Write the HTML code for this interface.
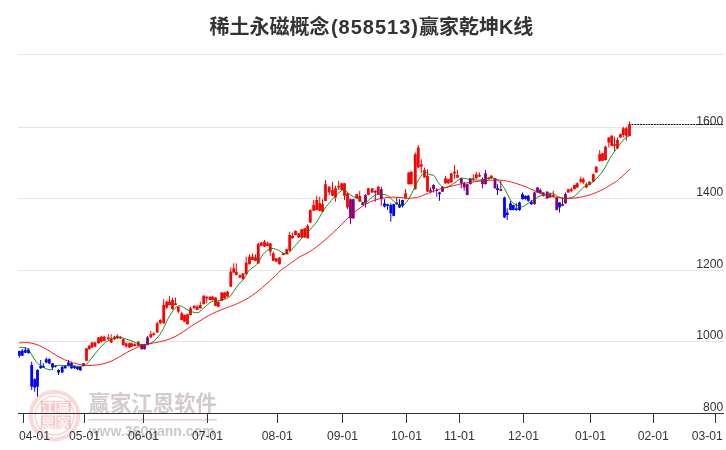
<!DOCTYPE html>
<html lang="zh"><head><meta charset="utf-8"><title>稀土永磁概念(858513)赢家乾坤K线</title>
<style>
html,body{margin:0;padding:0;background:#fff;}
body{width:726px;height:450px;overflow:hidden;position:relative;font-family:"Liberation Sans","Noto Sans CJK SC",sans-serif;}
#title{position:absolute;left:0;top:12px;width:742.8px;text-align:center;font-size:20px;line-height:30px;font-weight:bold;color:#333;white-space:nowrap;font-family:"Liberation Sans","Noto Sans CJK SC",sans-serif;}
#title .n{letter-spacing:1.0px;margin-left:1.4px;}#title .k{letter-spacing:-0.2px;}
svg{position:absolute;left:0;top:0;}
svg text{font-family:"Liberation Sans","Noto Sans CJK SC",sans-serif;}
</style></head><body>
<svg width="726" height="450" viewBox="0 0 726 450">
<rect x="18" y="54" width="706" height="1" fill="#e4e4e4"/><rect x="18" y="127" width="706" height="1" fill="#e4e4e4"/><rect x="18" y="198" width="706" height="1" fill="#e4e4e4"/><rect x="18" y="270" width="706" height="1" fill="#e4e4e4"/><rect x="18" y="341" width="706" height="1" fill="#e4e4e4"/>
<g id="wm">
<defs><filter id="bl" x="-10%" y="-10%" width="120%" height="120%"><feGaussianBlur stdDeviation="0.45"/></filter></defs>
<g filter="url(#bl)">
<circle cx="54.5" cy="415.6" r="23.8" fill="none" stroke="#e05050" stroke-opacity="0.22" stroke-width="4"/>
<circle cx="54.5" cy="415.6" r="19.3" fill="none" stroke="#e05050" stroke-opacity="0.24" stroke-width="1.5"/>
<g fill="#e05050" fill-opacity="0.30">
<rect x="40.8" y="400.8" width="14.4" height="13.4"/><rect x="56.4" y="400.8" width="14.4" height="13.4"/>
<rect x="40.8" y="415.4" width="14.4" height="13.4"/><rect x="56.4" y="415.4" width="14.4" height="13.4"/>
</g>
<g fill="#fff" fill-opacity="0.8" font-size="13" text-anchor="middle" font-weight="bold">
<text x="48" y="412.3">江</text><text x="63.6" y="412.3">赢</text><text x="48" y="426.9">恩</text><text x="63.6" y="426.9">家</text>
</g>
</g>
<text x="88.5" y="410.7" font-size="21.4" font-weight="700" fill="#d3cbcb" textLength="128.5" lengthAdjust="spacing">赢家江恩软件</text>
<rect x="88.5" y="418.8" width="128.5" height="1.9" fill="#ecd4d4"/>
<text x="88.7" y="436" font-size="14" font-weight="bold" fill="#cacaca" textLength="126" lengthAdjust="spacing">www.360gann.com</text>
</g>
<rect x="18" y="413" width="706" height="1" fill="#333"/>
<rect x="23" y="413" width="1" height="10" fill="#333"/><rect x="84" y="413" width="1" height="10" fill="#333"/><rect x="143" y="413" width="1" height="10" fill="#333"/><rect x="207" y="413" width="1" height="10" fill="#333"/><rect x="277" y="413" width="1" height="10" fill="#333"/><rect x="342" y="413" width="1" height="10" fill="#333"/><rect x="406" y="413" width="1" height="10" fill="#333"/><rect x="459" y="413" width="1" height="10" fill="#333"/><rect x="523" y="413" width="1" height="10" fill="#333"/><rect x="590" y="413" width="1" height="10" fill="#333"/><rect x="653" y="413" width="1" height="10" fill="#333"/><rect x="715" y="413" width="1" height="10" fill="#333"/>
<g font-size="13" fill="#333"><text x="34.6" y="440" text-anchor="middle" textLength="31" lengthAdjust="spacingAndGlyphs">04-01</text><text x="84.5" y="440" text-anchor="middle" textLength="31" lengthAdjust="spacingAndGlyphs">05-01</text><text x="143.4" y="440" text-anchor="middle" textLength="31" lengthAdjust="spacingAndGlyphs">06-01</text><text x="207.6" y="440" text-anchor="middle" textLength="31" lengthAdjust="spacingAndGlyphs">07-01</text><text x="277.2" y="440" text-anchor="middle" textLength="31" lengthAdjust="spacingAndGlyphs">08-01</text><text x="342.4" y="440" text-anchor="middle" textLength="31" lengthAdjust="spacingAndGlyphs">09-01</text><text x="406.4" y="440" text-anchor="middle" textLength="31" lengthAdjust="spacingAndGlyphs">10-01</text><text x="459.5" y="440" text-anchor="middle" textLength="31" lengthAdjust="spacingAndGlyphs">11-01</text><text x="523.4" y="440" text-anchor="middle" textLength="31" lengthAdjust="spacingAndGlyphs">12-01</text><text x="590.4" y="440" text-anchor="middle" textLength="31" lengthAdjust="spacingAndGlyphs">01-01</text><text x="653.3" y="440" text-anchor="middle" textLength="31" lengthAdjust="spacingAndGlyphs">02-01</text><text x="707.3" y="440" text-anchor="middle" textLength="31" lengthAdjust="spacingAndGlyphs">03-01</text><text x="723.3" y="124.7" text-anchor="end" textLength="27.0" lengthAdjust="spacingAndGlyphs">1600</text><text x="723.3" y="196" text-anchor="end" textLength="27.0" lengthAdjust="spacingAndGlyphs">1400</text><text x="723.3" y="268" text-anchor="end" textLength="27.0" lengthAdjust="spacingAndGlyphs">1200</text><text x="723.3" y="339" text-anchor="end" textLength="27.0" lengthAdjust="spacingAndGlyphs">1000</text><text x="723.3" y="411" text-anchor="end" textLength="20.2" lengthAdjust="spacingAndGlyphs">800</text></g>
<g shape-rendering="auto">
<path d="M19.4 350.7V357.7" stroke="#0000ff" stroke-width="1"/><rect x="18.0" y="351.1" width="2.8" height="4.6" fill="#0000ff"/>
<path d="M22.3 349.0V355.9" stroke="#0000ff" stroke-width="1"/><rect x="20.9" y="350.7" width="2.8" height="5.0" fill="#0000ff"/>
<path d="M25.4 347.0V353.0" stroke="#0000ff" stroke-width="1"/><rect x="24.0" y="349.9" width="2.8" height="2.9" fill="#0000ff"/>
<path d="M28.5 348.2V353.6" stroke="#0000ff" stroke-width="1"/><rect x="27.1" y="349.5" width="2.8" height="3.7" fill="#0000ff"/>
<path d="M31.7 361.7V390.0" stroke="#0000ff" stroke-width="1"/><rect x="30.3" y="365.0" width="2.8" height="21.7" fill="#0000ff"/>
<path d="M34.7 378.3V391.7" stroke="#0000ff" stroke-width="1"/><rect x="33.3" y="379.2" width="2.8" height="8.3" fill="#0000ff"/>
<path d="M37.5 369.2V396.7" stroke="#0000ff" stroke-width="1"/><rect x="36.1" y="370.0" width="2.8" height="16.7" fill="#0000ff"/>
<path d="M40.7 360.0V368.7" stroke="#0000ff" stroke-width="1"/><rect x="39.3" y="365.8" width="2.8" height="2.5" fill="#0000ff"/>
<path d="M43.3 363.3V368.0" stroke="#0000ff" stroke-width="1"/><rect x="41.9" y="365.8" width="2.8" height="1.7" fill="#0000ff"/>
<path d="M46.3 357.5V363.3" stroke="#0000ff" stroke-width="1"/><rect x="44.9" y="359.2" width="2.8" height="3.3" fill="#0000ff"/>
<path d="M49.3 358.3V364.2" stroke="#0000ff" stroke-width="1"/><rect x="47.9" y="359.2" width="2.8" height="4.2" fill="#0000ff"/>
<path d="M52.5 363.0V370.0" stroke="#0000ff" stroke-width="1"/><rect x="51.1" y="363.3" width="2.8" height="4.2" fill="#0000ff"/>
<path d="M55.3 365.0V367.5" stroke="#0000ff" stroke-width="1"/><rect x="53.9" y="365.8" width="2.8" height="1.0" fill="#0000ff"/>
<path d="M58.5 369.2V375.0" stroke="#0000ff" stroke-width="1"/><rect x="57.1" y="370.0" width="2.8" height="2.5" fill="#0000ff"/>
<path d="M62.2 366.3V372.8" stroke="#0000ff" stroke-width="1"/><rect x="60.8" y="366.7" width="2.8" height="5.8" fill="#0000ff"/>
<path d="M65.2 365.5V368.7" stroke="#0000ff" stroke-width="1"/><rect x="63.8" y="365.8" width="2.8" height="2.5" fill="#0000ff"/>
<path d="M68.5 360.0V366.3" stroke="#0000ff" stroke-width="1"/><rect x="67.1" y="362.5" width="2.8" height="3.3" fill="#0000ff"/>
<path d="M71.5 361.7V368.7" stroke="#0000ff" stroke-width="1"/><rect x="70.1" y="363.3" width="2.8" height="5.0" fill="#0000ff"/>
<path d="M74.5 365.3V368.7" stroke="#0000ff" stroke-width="1"/><rect x="73.1" y="365.8" width="2.8" height="2.5" fill="#0000ff"/>
<path d="M77.5 366.3V370.0" stroke="#0000ff" stroke-width="1"/><rect x="76.1" y="366.7" width="2.8" height="2.5" fill="#0000ff"/>
<path d="M80.3 366.3V370.8" stroke="#0000ff" stroke-width="1"/><rect x="78.9" y="366.7" width="2.8" height="3.7" fill="#0000ff"/>
<path d="M83.5 363.0V366.3" stroke="#800080" stroke-width="1"/><rect x="82.1" y="363.3" width="2.8" height="2.5" fill="#800080"/>
<path d="M86.5 348.0V361.2" stroke="#ff0000" stroke-width="1"/><rect x="85.1" y="348.3" width="2.8" height="12.5" fill="#ff0000"/>
<path d="M89.3 345.0V349.7" stroke="#ff0000" stroke-width="1"/><rect x="87.9" y="345.8" width="2.8" height="3.3" fill="#ff0000"/>
<path d="M92.0 342.0V348.0" stroke="#ff0000" stroke-width="1"/><rect x="90.6" y="342.5" width="2.8" height="5.0" fill="#ff0000"/>
<path d="M95.0 342.0V347.2" stroke="#ff0000" stroke-width="1"/><rect x="93.6" y="342.5" width="2.8" height="4.2" fill="#ff0000"/>
<path d="M98.5 337.0V343.7" stroke="#ff0000" stroke-width="1"/><rect x="97.1" y="337.5" width="2.8" height="5.8" fill="#ff0000"/>
<path d="M101.3 335.8V342.5" stroke="#ff0000" stroke-width="1"/><rect x="99.9" y="336.7" width="2.8" height="5.0" fill="#ff0000"/>
<path d="M104.2 335.8V341.3" stroke="#ff0000" stroke-width="1"/><rect x="102.8" y="336.7" width="2.8" height="4.2" fill="#ff0000"/>
<path d="M108.3 334.2V340.0" stroke="#ff0000" stroke-width="1"/><rect x="106.9" y="337.5" width="2.8" height="1.7" fill="#ff0000"/>
<path d="M111.2 334.2V343.0" stroke="#ff0000" stroke-width="1"/><rect x="109.8" y="338.3" width="2.8" height="4.2" fill="#ff0000"/>
<path d="M114.5 335.8V340.0" stroke="#ff0000" stroke-width="1"/><rect x="113.1" y="336.7" width="2.8" height="2.5" fill="#ff0000"/>
<path d="M117.3 334.2V339.2" stroke="#ff0000" stroke-width="1"/><rect x="115.9" y="335.8" width="2.8" height="2.5" fill="#ff0000"/>
<path d="M120.3 335.8V339.2" stroke="#ff0000" stroke-width="1"/><rect x="118.9" y="336.7" width="2.8" height="1.7" fill="#ff0000"/>
<path d="M123.3 338.3V345.8" stroke="#ff0000" stroke-width="1"/><rect x="121.9" y="339.2" width="2.8" height="5.8" fill="#ff0000"/>
<path d="M126.2 342.5V347.5" stroke="#ff0000" stroke-width="1"/><rect x="124.8" y="343.3" width="2.8" height="3.3" fill="#ff0000"/>
<path d="M129.5 342.5V348.0" stroke="#ff0000" stroke-width="1"/><rect x="128.1" y="343.3" width="2.8" height="4.2" fill="#ff0000"/>
<path d="M131.7 342.5V347.0" stroke="#ff0000" stroke-width="1"/><rect x="130.3" y="343.3" width="2.8" height="3.3" fill="#ff0000"/>
<path d="M134.7 343.3V346.7" stroke="#ff0000" stroke-width="1"/><rect x="133.3" y="344.2" width="2.8" height="1.7" fill="#ff0000"/>
<path d="M138.3 341.3V346.3" stroke="#ff0000" stroke-width="1"/><rect x="136.9" y="341.7" width="2.8" height="4.2" fill="#ff0000"/>
<path d="M141.7 343.8V349.5" stroke="#800080" stroke-width="1"/><rect x="140.3" y="344.2" width="2.8" height="5.0" fill="#800080"/>
<path d="M144.5 343.8V349.5" stroke="#800080" stroke-width="1"/><rect x="143.1" y="344.2" width="2.8" height="5.0" fill="#800080"/>
<path d="M147.5 335.8V345.3" stroke="#800080" stroke-width="1"/><rect x="146.1" y="337.5" width="2.8" height="7.5" fill="#800080"/>
<path d="M150.8 330.8V337.8" stroke="#ff0000" stroke-width="1"/><rect x="149.4" y="334.2" width="2.8" height="3.3" fill="#ff0000"/>
<path d="M153.7 332.5V335.8" stroke="#ff0000" stroke-width="1"/><rect x="152.3" y="333.3" width="2.8" height="1.7" fill="#ff0000"/>
<path d="M157.2 321.7V333.0" stroke="#ff0000" stroke-width="1"/><rect x="155.8" y="323.3" width="2.8" height="9.2" fill="#ff0000"/>
<path d="M160.3 319.2V324.2" stroke="#ff0000" stroke-width="1"/><rect x="158.9" y="320.0" width="2.8" height="3.3" fill="#ff0000"/>
<path d="M163.7 299.2V323.7" stroke="#ff0000" stroke-width="1"/><rect x="162.3" y="305.0" width="2.8" height="18.3" fill="#ff0000"/>
<path d="M166.7 300.8V309.2" stroke="#ff0000" stroke-width="1"/><rect x="165.3" y="301.7" width="2.8" height="5.8" fill="#ff0000"/>
<path d="M169.5 295.8V305.3" stroke="#ff0000" stroke-width="1"/><rect x="168.1" y="301.7" width="2.8" height="3.3" fill="#ff0000"/>
<path d="M172.5 297.5V309.7" stroke="#ff0000" stroke-width="1"/><rect x="171.1" y="300.0" width="2.8" height="9.2" fill="#ff0000"/>
<path d="M175.5 297.5V305.3" stroke="#ff0000" stroke-width="1"/><rect x="174.1" y="303.3" width="2.8" height="1.7" fill="#ff0000"/>
<path d="M178.3 306.3V313.3" stroke="#ff0000" stroke-width="1"/><rect x="176.9" y="306.7" width="2.8" height="5.0" fill="#ff0000"/>
<path d="M181.7 311.7V320.3" stroke="#ff0000" stroke-width="1"/><rect x="180.3" y="313.3" width="2.8" height="6.7" fill="#ff0000"/>
<path d="M184.5 314.7V322.0" stroke="#ff0000" stroke-width="1"/><rect x="183.1" y="315.0" width="2.8" height="6.7" fill="#ff0000"/>
<path d="M187.5 313.8V324.7" stroke="#ff0000" stroke-width="1"/><rect x="186.1" y="314.2" width="2.8" height="10.0" fill="#ff0000"/>
<path d="M190.5 306.7V315.3" stroke="#ff0000" stroke-width="1"/><rect x="189.1" y="308.3" width="2.8" height="6.7" fill="#ff0000"/>
<path d="M194.2 305.3V308.7" stroke="#ff0000" stroke-width="1"/><rect x="192.8" y="305.8" width="2.8" height="2.5" fill="#ff0000"/>
<path d="M197.2 305.0V310.3" stroke="#ff0000" stroke-width="1"/><rect x="195.8" y="306.7" width="2.8" height="3.3" fill="#ff0000"/>
<path d="M200.3 301.7V308.7" stroke="#ff0000" stroke-width="1"/><rect x="198.9" y="305.0" width="2.8" height="3.3" fill="#ff0000"/>
<path d="M203.7 295.0V304.5" stroke="#ff0000" stroke-width="1"/><rect x="202.3" y="295.8" width="2.8" height="8.3" fill="#ff0000"/>
<path d="M206.7 296.3V303.3" stroke="#ff0000" stroke-width="1"/><rect x="205.3" y="296.7" width="2.8" height="1.7" fill="#ff0000"/>
<path d="M210.0 296.3V300.3" stroke="#ff0000" stroke-width="1"/><rect x="208.6" y="296.7" width="2.8" height="3.3" fill="#ff0000"/>
<path d="M212.5 295.8V300.3" stroke="#ff0000" stroke-width="1"/><rect x="211.1" y="296.7" width="2.8" height="3.3" fill="#ff0000"/>
<path d="M215.5 297.2V306.2" stroke="#ff0000" stroke-width="1"/><rect x="214.1" y="297.5" width="2.8" height="8.3" fill="#ff0000"/>
<path d="M218.3 301.3V307.0" stroke="#ff0000" stroke-width="1"/><rect x="216.9" y="301.7" width="2.8" height="5.0" fill="#ff0000"/>
<path d="M221.7 292.2V301.2" stroke="#ff0000" stroke-width="1"/><rect x="220.3" y="292.5" width="2.8" height="8.3" fill="#ff0000"/>
<path d="M224.5 292.2V298.7" stroke="#ff0000" stroke-width="1"/><rect x="223.1" y="292.5" width="2.8" height="5.8" fill="#ff0000"/>
<path d="M227.5 290.8V297.0" stroke="#ff0000" stroke-width="1"/><rect x="226.1" y="291.7" width="2.8" height="5.0" fill="#ff0000"/>
<path d="M230.8 267.5V287.0" stroke="#ff0000" stroke-width="1"/><rect x="229.4" y="271.7" width="2.8" height="15.0" fill="#ff0000"/>
<path d="M233.7 263.3V272.8" stroke="#ff0000" stroke-width="1"/><rect x="232.3" y="268.3" width="2.8" height="4.2" fill="#ff0000"/>
<path d="M236.3 263.3V275.3" stroke="#ff0000" stroke-width="1"/><rect x="234.9" y="271.7" width="2.8" height="3.3" fill="#ff0000"/>
<path d="M240.0 274.7V278.0" stroke="#ff0000" stroke-width="1"/><rect x="238.6" y="275.0" width="2.8" height="2.5" fill="#ff0000"/>
<path d="M243.0 273.0V280.0" stroke="#ff0000" stroke-width="1"/><rect x="241.6" y="273.3" width="2.8" height="5.8" fill="#ff0000"/>
<path d="M246.2 256.7V274.5" stroke="#ff0000" stroke-width="1"/><rect x="244.8" y="262.5" width="2.8" height="11.7" fill="#ff0000"/>
<path d="M249.5 254.2V264.5" stroke="#ff0000" stroke-width="1"/><rect x="248.1" y="256.7" width="2.8" height="7.5" fill="#ff0000"/>
<path d="M252.5 253.3V260.3" stroke="#ff0000" stroke-width="1"/><rect x="251.1" y="256.7" width="2.8" height="3.3" fill="#ff0000"/>
<path d="M255.5 254.2V261.2" stroke="#ff0000" stroke-width="1"/><rect x="254.1" y="257.5" width="2.8" height="3.3" fill="#ff0000"/>
<path d="M258.3 242.5V263.7" stroke="#ff0000" stroke-width="1"/><rect x="256.9" y="244.2" width="2.8" height="19.2" fill="#ff0000"/>
<path d="M261.3 242.2V246.2" stroke="#ff0000" stroke-width="1"/><rect x="259.9" y="242.5" width="2.8" height="3.3" fill="#ff0000"/>
<path d="M264.5 240.0V247.0" stroke="#ff0000" stroke-width="1"/><rect x="263.1" y="241.7" width="2.8" height="5.0" fill="#ff0000"/>
<path d="M267.5 241.7V246.2" stroke="#ff0000" stroke-width="1"/><rect x="266.1" y="243.3" width="2.8" height="2.5" fill="#ff0000"/>
<path d="M270.3 243.0V255.8" stroke="#ff0000" stroke-width="1"/><rect x="268.9" y="243.3" width="2.8" height="8.3" fill="#ff0000"/>
<path d="M273.3 251.7V261.2" stroke="#ff0000" stroke-width="1"/><rect x="271.9" y="253.3" width="2.8" height="7.5" fill="#ff0000"/>
<path d="M276.3 258.0V262.0" stroke="#ff0000" stroke-width="1"/><rect x="274.9" y="258.3" width="2.8" height="3.3" fill="#ff0000"/>
<path d="M279.5 257.2V264.5" stroke="#ff0000" stroke-width="1"/><rect x="278.1" y="257.5" width="2.8" height="6.7" fill="#ff0000"/>
<path d="M283.3 253.0V255.3" stroke="#ff0000" stroke-width="1"/><rect x="281.9" y="253.3" width="2.8" height="1.7" fill="#ff0000"/>
<path d="M286.7 248.8V254.5" stroke="#ff0000" stroke-width="1"/><rect x="285.3" y="249.2" width="2.8" height="5.0" fill="#ff0000"/>
<path d="M289.7 231.7V251.2" stroke="#ff0000" stroke-width="1"/><rect x="288.3" y="235.0" width="2.8" height="15.8" fill="#ff0000"/>
<path d="M292.5 232.5V238.7" stroke="#ff0000" stroke-width="1"/><rect x="291.1" y="235.8" width="2.8" height="2.5" fill="#ff0000"/>
<path d="M295.5 230.5V235.3" stroke="#ff0000" stroke-width="1"/><rect x="294.1" y="230.8" width="2.8" height="4.2" fill="#ff0000"/>
<path d="M298.7 233.0V237.8" stroke="#ff0000" stroke-width="1"/><rect x="297.3" y="233.3" width="2.8" height="4.2" fill="#ff0000"/>
<path d="M301.7 228.8V237.8" stroke="#ff0000" stroke-width="1"/><rect x="300.3" y="229.2" width="2.8" height="8.3" fill="#ff0000"/>
<path d="M304.7 228.0V237.8" stroke="#ff0000" stroke-width="1"/><rect x="303.3" y="228.3" width="2.8" height="9.2" fill="#ff0000"/>
<path d="M307.7 224.2V238.7" stroke="#ff0000" stroke-width="1"/><rect x="306.3" y="225.8" width="2.8" height="12.5" fill="#ff0000"/>
<path d="M310.3 209.2V223.3" stroke="#ff0000" stroke-width="1"/><rect x="308.9" y="210.0" width="2.8" height="12.5" fill="#ff0000"/>
<path d="M313.7 200.0V211.2" stroke="#ff0000" stroke-width="1"/><rect x="312.3" y="205.0" width="2.8" height="5.8" fill="#ff0000"/>
<path d="M316.7 195.8V210.3" stroke="#ff0000" stroke-width="1"/><rect x="315.3" y="200.0" width="2.8" height="10.0" fill="#ff0000"/>
<path d="M319.7 196.7V211.2" stroke="#ff0000" stroke-width="1"/><rect x="318.3" y="203.3" width="2.8" height="7.5" fill="#ff0000"/>
<path d="M322.5 199.2V212.0" stroke="#ff0000" stroke-width="1"/><rect x="321.1" y="204.2" width="2.8" height="7.5" fill="#ff0000"/>
<path d="M325.5 180.0V201.2" stroke="#ff0000" stroke-width="1"/><rect x="324.1" y="184.2" width="2.8" height="16.7" fill="#ff0000"/>
<path d="M329.2 186.3V195.0" stroke="#ff0000" stroke-width="1"/><rect x="327.8" y="186.7" width="2.8" height="5.8" fill="#ff0000"/>
<path d="M332.5 181.7V196.2" stroke="#ff0000" stroke-width="1"/><rect x="331.1" y="190.0" width="2.8" height="5.8" fill="#ff0000"/>
<path d="M335.5 185.8V201.7" stroke="#ff0000" stroke-width="1"/><rect x="334.1" y="188.3" width="2.8" height="9.2" fill="#ff0000"/>
<path d="M338.7 180.8V190.0" stroke="#ff0000" stroke-width="1"/><rect x="337.3" y="185.8" width="2.8" height="1.7" fill="#ff0000"/>
<path d="M341.7 183.0V190.3" stroke="#ff0000" stroke-width="1"/><rect x="340.3" y="183.3" width="2.8" height="6.7" fill="#ff0000"/>
<path d="M344.5 183.0V200.0" stroke="#ff0000" stroke-width="1"/><rect x="343.1" y="183.3" width="2.8" height="12.5" fill="#ff0000"/>
<path d="M347.5 193.0V209.2" stroke="#ff0000" stroke-width="1"/><rect x="346.1" y="193.3" width="2.8" height="14.2" fill="#ff0000"/>
<path d="M350.5 198.8V224.2" stroke="#800080" stroke-width="1"/><rect x="349.1" y="199.2" width="2.8" height="19.2" fill="#800080"/>
<path d="M353.3 198.8V218.7" stroke="#800080" stroke-width="1"/><rect x="351.9" y="199.2" width="2.8" height="19.2" fill="#800080"/>
<path d="M356.7 193.8V198.7" stroke="#ff0000" stroke-width="1"/><rect x="355.3" y="194.2" width="2.8" height="4.2" fill="#ff0000"/>
<path d="M359.7 190.8V202.0" stroke="#ff0000" stroke-width="1"/><rect x="358.3" y="195.8" width="2.8" height="5.8" fill="#ff0000"/>
<path d="M362.7 202.2V205.3" stroke="#800080" stroke-width="1"/><rect x="361.3" y="202.5" width="2.8" height="2.5" fill="#800080"/>
<path d="M365.5 194.2V207.5" stroke="#800080" stroke-width="1"/><rect x="364.1" y="195.0" width="2.8" height="8.3" fill="#800080"/>
<path d="M368.3 188.0V195.3" stroke="#ff0000" stroke-width="1"/><rect x="366.9" y="188.3" width="2.8" height="6.7" fill="#ff0000"/>
<path d="M372.2 188.0V192.8" stroke="#ff0000" stroke-width="1"/><rect x="370.8" y="188.3" width="2.8" height="4.2" fill="#ff0000"/>
<path d="M375.3 190.5V201.7" stroke="#800080" stroke-width="1"/><rect x="373.9" y="190.8" width="2.8" height="1.7" fill="#800080"/>
<path d="M378.3 185.8V194.5" stroke="#ff0000" stroke-width="1"/><rect x="376.9" y="186.7" width="2.8" height="7.5" fill="#ff0000"/>
<path d="M381.3 186.7V205.8" stroke="#800080" stroke-width="1"/><rect x="379.9" y="189.2" width="2.8" height="10.0" fill="#800080"/>
<path d="M384.5 199.2V207.5" stroke="#0000ff" stroke-width="1"/><rect x="383.1" y="203.3" width="2.8" height="3.3" fill="#0000ff"/>
<path d="M387.5 203.8V210.0" stroke="#0000ff" stroke-width="1"/><rect x="386.1" y="204.2" width="2.8" height="1.7" fill="#0000ff"/>
<path d="M390.8 203.3V221.7" stroke="#0000ff" stroke-width="1"/><rect x="389.4" y="205.0" width="2.8" height="8.3" fill="#0000ff"/>
<path d="M393.7 203.8V216.2" stroke="#0000ff" stroke-width="1"/><rect x="392.3" y="204.2" width="2.8" height="11.7" fill="#0000ff"/>
<path d="M396.7 197.5V205.0" stroke="#800080" stroke-width="1"/><rect x="395.3" y="202.5" width="2.8" height="1.7" fill="#800080"/>
<path d="M399.5 199.2V207.8" stroke="#0000ff" stroke-width="1"/><rect x="398.1" y="204.2" width="2.8" height="3.3" fill="#0000ff"/>
<path d="M402.5 199.7V207.5" stroke="#0000ff" stroke-width="1"/><rect x="401.1" y="200.0" width="2.8" height="5.8" fill="#0000ff"/>
<path d="M405.5 189.2V198.7" stroke="#ff0000" stroke-width="1"/><rect x="404.1" y="193.3" width="2.8" height="5.0" fill="#ff0000"/>
<path d="M408.7 172.2V184.5" stroke="#ff0000" stroke-width="1"/><rect x="407.3" y="172.5" width="2.8" height="11.7" fill="#ff0000"/>
<path d="M411.3 171.3V184.5" stroke="#ff0000" stroke-width="1"/><rect x="409.9" y="171.7" width="2.8" height="12.5" fill="#ff0000"/>
<path d="M415.3 152.5V189.5" stroke="#ff0000" stroke-width="1"/><rect x="413.9" y="154.2" width="2.8" height="35.0" fill="#ff0000"/>
<path d="M418.3 145.0V167.8" stroke="#ff0000" stroke-width="1"/><rect x="416.9" y="147.5" width="2.8" height="20.0" fill="#ff0000"/>
<path d="M421.3 159.2V173.3" stroke="#ff0000" stroke-width="1"/><rect x="419.9" y="164.2" width="2.8" height="2.5" fill="#ff0000"/>
<path d="M424.5 167.5V177.8" stroke="#ff0000" stroke-width="1"/><rect x="423.1" y="170.0" width="2.8" height="7.5" fill="#ff0000"/>
<path d="M427.5 169.2V192.0" stroke="#ff0000" stroke-width="1"/><rect x="426.1" y="175.8" width="2.8" height="15.8" fill="#ff0000"/>
<path d="M430.5 187.5V193.3" stroke="#800080" stroke-width="1"/><rect x="429.1" y="190.0" width="2.8" height="1.7" fill="#800080"/>
<path d="M433.5 184.2V192.5" stroke="#800080" stroke-width="1"/><rect x="432.1" y="185.0" width="2.8" height="4.2" fill="#800080"/>
<path d="M436.7 188.3V196.7" stroke="#800080" stroke-width="1"/><rect x="435.3" y="190.0" width="2.8" height="1.0" fill="#800080"/>
<path d="M439.5 191.7V200.8" stroke="#0000ff" stroke-width="1"/><rect x="438.1" y="192.5" width="2.8" height="1.7" fill="#0000ff"/>
<path d="M442.5 186.3V192.0" stroke="#800080" stroke-width="1"/><rect x="441.1" y="186.7" width="2.8" height="5.0" fill="#800080"/>
<path d="M445.5 175.8V183.7" stroke="#ff0000" stroke-width="1"/><rect x="444.1" y="178.3" width="2.8" height="5.0" fill="#ff0000"/>
<path d="M448.3 178.8V183.7" stroke="#ff0000" stroke-width="1"/><rect x="446.9" y="179.2" width="2.8" height="4.2" fill="#ff0000"/>
<path d="M451.3 173.0V182.8" stroke="#ff0000" stroke-width="1"/><rect x="449.9" y="173.3" width="2.8" height="9.2" fill="#ff0000"/>
<path d="M454.5 165.0V179.2" stroke="#ff0000" stroke-width="1"/><rect x="453.1" y="171.7" width="2.8" height="1.7" fill="#ff0000"/>
<path d="M457.5 170.0V177.8" stroke="#ff0000" stroke-width="1"/><rect x="456.1" y="175.0" width="2.8" height="2.5" fill="#ff0000"/>
<path d="M461.3 177.5V188.3" stroke="#800080" stroke-width="1"/><rect x="459.9" y="178.3" width="2.8" height="5.0" fill="#800080"/>
<path d="M464.2 181.7V190.8" stroke="#800080" stroke-width="1"/><rect x="462.8" y="183.3" width="2.8" height="4.2" fill="#800080"/>
<path d="M467.2 183.8V195.3" stroke="#800080" stroke-width="1"/><rect x="465.8" y="184.2" width="2.8" height="10.8" fill="#800080"/>
<path d="M470.3 178.0V184.5" stroke="#800080" stroke-width="1"/><rect x="468.9" y="178.3" width="2.8" height="5.8" fill="#800080"/>
<path d="M473.3 174.2V181.7" stroke="#ff0000" stroke-width="1"/><rect x="471.9" y="178.3" width="2.8" height="1.0" fill="#ff0000"/>
<path d="M476.3 171.7V178.7" stroke="#ff0000" stroke-width="1"/><rect x="474.9" y="174.2" width="2.8" height="4.2" fill="#ff0000"/>
<path d="M479.5 172.5V177.0" stroke="#ff0000" stroke-width="1"/><rect x="478.1" y="175.0" width="2.8" height="1.7" fill="#ff0000"/>
<path d="M482.5 177.5V188.3" stroke="#800080" stroke-width="1"/><rect x="481.1" y="179.2" width="2.8" height="5.0" fill="#800080"/>
<path d="M485.5 170.0V184.5" stroke="#800080" stroke-width="1"/><rect x="484.1" y="173.3" width="2.8" height="10.8" fill="#800080"/>
<path d="M488.7 177.2V179.5" stroke="#ff0000" stroke-width="1"/><rect x="487.3" y="177.5" width="2.8" height="1.7" fill="#ff0000"/>
<path d="M491.3 175.0V178.7" stroke="#ff0000" stroke-width="1"/><rect x="489.9" y="175.8" width="2.8" height="2.5" fill="#ff0000"/>
<path d="M495.0 178.0V188.7" stroke="#800080" stroke-width="1"/><rect x="493.6" y="178.3" width="2.8" height="10.0" fill="#800080"/>
<path d="M497.5 184.2V195.0" stroke="#0000ff" stroke-width="1"/><rect x="496.1" y="188.3" width="2.8" height="1.7" fill="#0000ff"/>
<path d="M500.8 180.8V191.2" stroke="#800080" stroke-width="1"/><rect x="499.4" y="189.2" width="2.8" height="1.7" fill="#800080"/>
<path d="M504.5 196.7V217.8" stroke="#0000ff" stroke-width="1"/><rect x="503.1" y="197.5" width="2.8" height="20.0" fill="#0000ff"/>
<path d="M507.2 208.3V220.0" stroke="#0000ff" stroke-width="1"/><rect x="505.8" y="212.5" width="2.8" height="2.5" fill="#0000ff"/>
<path d="M510.5 200.8V210.3" stroke="#0000ff" stroke-width="1"/><rect x="509.1" y="203.3" width="2.8" height="6.7" fill="#0000ff"/>
<path d="M513.3 204.7V210.3" stroke="#0000ff" stroke-width="1"/><rect x="511.9" y="205.0" width="2.8" height="5.0" fill="#0000ff"/>
<path d="M516.3 203.3V210.8" stroke="#0000ff" stroke-width="1"/><rect x="514.9" y="208.3" width="2.8" height="1.7" fill="#0000ff"/>
<path d="M519.5 201.7V210.8" stroke="#0000ff" stroke-width="1"/><rect x="518.1" y="202.5" width="2.8" height="7.5" fill="#0000ff"/>
<path d="M522.5 192.5V199.5" stroke="#0000ff" stroke-width="1"/><rect x="521.1" y="194.2" width="2.8" height="5.0" fill="#0000ff"/>
<path d="M525.5 195.5V199.5" stroke="#0000ff" stroke-width="1"/><rect x="524.1" y="195.8" width="2.8" height="3.3" fill="#0000ff"/>
<path d="M528.3 195.0V201.7" stroke="#0000ff" stroke-width="1"/><rect x="526.9" y="195.8" width="2.8" height="5.0" fill="#0000ff"/>
<path d="M531.3 200.0V205.0" stroke="#0000ff" stroke-width="1"/><rect x="529.9" y="201.7" width="2.8" height="2.5" fill="#0000ff"/>
<path d="M534.5 191.7V204.5" stroke="#800080" stroke-width="1"/><rect x="533.1" y="192.5" width="2.8" height="11.7" fill="#800080"/>
<path d="M537.5 187.2V192.8" stroke="#800080" stroke-width="1"/><rect x="536.1" y="187.5" width="2.8" height="5.0" fill="#800080"/>
<path d="M540.3 188.3V193.7" stroke="#800080" stroke-width="1"/><rect x="538.9" y="190.0" width="2.8" height="3.3" fill="#800080"/>
<path d="M543.3 192.2V196.7" stroke="#800080" stroke-width="1"/><rect x="541.9" y="192.5" width="2.8" height="2.5" fill="#800080"/>
<path d="M547.2 191.3V198.7" stroke="#800080" stroke-width="1"/><rect x="545.8" y="191.7" width="2.8" height="6.7" fill="#800080"/>
<path d="M550.0 192.5V197.8" stroke="#800080" stroke-width="1"/><rect x="548.6" y="194.2" width="2.8" height="3.3" fill="#800080"/>
<path d="M553.3 190.8V197.5" stroke="#ff0000" stroke-width="1"/><rect x="551.9" y="195.0" width="2.8" height="1.7" fill="#ff0000"/>
<path d="M556.7 197.2V210.3" stroke="#800080" stroke-width="1"/><rect x="555.3" y="197.5" width="2.8" height="12.5" fill="#800080"/>
<path d="M559.5 202.2V212.5" stroke="#0000ff" stroke-width="1"/><rect x="558.1" y="202.5" width="2.8" height="5.0" fill="#0000ff"/>
<path d="M562.5 197.5V206.2" stroke="#800080" stroke-width="1"/><rect x="561.1" y="204.2" width="2.8" height="1.7" fill="#800080"/>
<path d="M565.5 192.5V203.7" stroke="#800080" stroke-width="1"/><rect x="564.1" y="194.2" width="2.8" height="9.2" fill="#800080"/>
<path d="M568.3 188.8V192.8" stroke="#ff0000" stroke-width="1"/><rect x="566.9" y="189.2" width="2.8" height="3.3" fill="#ff0000"/>
<path d="M571.3 187.5V192.5" stroke="#ff0000" stroke-width="1"/><rect x="569.9" y="189.2" width="2.8" height="1.7" fill="#ff0000"/>
<path d="M574.5 184.7V189.5" stroke="#ff0000" stroke-width="1"/><rect x="573.1" y="185.0" width="2.8" height="4.2" fill="#ff0000"/>
<path d="M577.2 182.5V187.8" stroke="#ff0000" stroke-width="1"/><rect x="575.8" y="183.3" width="2.8" height="4.2" fill="#ff0000"/>
<path d="M580.8 176.7V183.3" stroke="#ff0000" stroke-width="1"/><rect x="579.4" y="179.2" width="2.8" height="2.5" fill="#ff0000"/>
<path d="M583.3 177.5V184.2" stroke="#ff0000" stroke-width="1"/><rect x="581.9" y="179.2" width="2.8" height="3.3" fill="#ff0000"/>
<path d="M586.3 182.5V188.3" stroke="#ff0000" stroke-width="1"/><rect x="584.9" y="184.2" width="2.8" height="3.3" fill="#ff0000"/>
<path d="M589.5 181.3V185.3" stroke="#ff0000" stroke-width="1"/><rect x="588.1" y="181.7" width="2.8" height="3.3" fill="#ff0000"/>
<path d="M593.3 173.8V182.0" stroke="#ff0000" stroke-width="1"/><rect x="591.9" y="174.2" width="2.8" height="7.5" fill="#ff0000"/>
<path d="M596.3 166.3V172.8" stroke="#ff0000" stroke-width="1"/><rect x="594.9" y="166.7" width="2.8" height="5.8" fill="#ff0000"/>
<path d="M599.7 150.0V161.7" stroke="#ff0000" stroke-width="1"/><rect x="598.3" y="154.2" width="2.8" height="6.7" fill="#ff0000"/>
<path d="M602.5 153.0V161.2" stroke="#ff0000" stroke-width="1"/><rect x="601.1" y="153.3" width="2.8" height="7.5" fill="#ff0000"/>
<path d="M605.5 145.8V160.3" stroke="#ff0000" stroke-width="1"/><rect x="604.1" y="146.7" width="2.8" height="13.3" fill="#ff0000"/>
<path d="M608.8 137.2V147.5" stroke="#ff0000" stroke-width="1"/><rect x="607.4" y="137.5" width="2.8" height="5.0" fill="#ff0000"/>
<path d="M611.7 135.0V146.2" stroke="#ff0000" stroke-width="1"/><rect x="610.3" y="135.8" width="2.8" height="10.0" fill="#ff0000"/>
<path d="M614.5 136.7V151.7" stroke="#ff0000" stroke-width="1"/><rect x="613.1" y="144.2" width="2.8" height="1.7" fill="#ff0000"/>
<path d="M617.5 137.5V148.7" stroke="#ff0000" stroke-width="1"/><rect x="616.1" y="140.0" width="2.8" height="8.3" fill="#ff0000"/>
<path d="M620.5 133.8V137.8" stroke="#ff0000" stroke-width="1"/><rect x="619.1" y="134.2" width="2.8" height="3.3" fill="#ff0000"/>
<path d="M623.3 126.7V137.5" stroke="#ff0000" stroke-width="1"/><rect x="621.9" y="128.3" width="2.8" height="6.7" fill="#ff0000"/>
<path d="M626.3 126.7V140.8" stroke="#ff0000" stroke-width="1"/><rect x="624.9" y="128.3" width="2.8" height="7.5" fill="#ff0000"/>
<path d="M629.5 121.7V136.2" stroke="#ff0000" stroke-width="1"/><rect x="628.1" y="124.2" width="2.8" height="11.7" fill="#ff0000"/>
</g>
<path d="M19.2 347.2C20.4 347.4 24.9 347.6 26.7 348.3C28.5 349.1 28.6 349.8 30.0 351.7C31.4 353.6 33.3 357.8 35.0 360.0C36.7 362.2 37.5 363.3 40.0 365.0C42.5 366.7 47.5 369.9 50.0 370.0C52.5 370.1 52.5 366.6 55.0 365.8C57.5 365.1 61.4 365.4 65.0 365.5C68.6 365.6 73.4 366.3 76.7 366.3C80.0 366.3 82.8 366.4 85.0 365.3C87.2 364.2 88.0 362.3 90.0 360.0C92.0 357.7 94.5 354.3 96.7 351.7C98.9 349.1 101.4 346.0 103.3 344.2C105.2 342.4 105.8 341.9 108.3 340.8C110.8 339.7 115.2 337.8 118.3 337.5C121.4 337.2 123.9 338.4 126.7 339.2C129.5 340.0 132.5 341.5 135.0 342.5C137.5 343.5 139.5 344.7 141.7 345.0C143.9 345.3 146.1 345.0 148.3 344.2C150.5 343.4 152.8 342.1 155.0 340.0C157.2 337.9 159.5 335.3 161.7 331.7C163.9 328.1 166.1 322.2 168.3 318.3C170.5 314.4 173.1 310.4 175.0 308.3C176.9 306.2 178.3 305.8 180.0 305.8C181.7 305.8 183.1 307.3 185.0 308.3C186.9 309.3 189.5 311.0 191.7 311.7C193.9 312.4 196.4 313.1 198.3 312.5C200.2 311.9 201.1 310.1 203.3 308.3C205.5 306.5 209.2 302.9 211.7 301.7C214.2 300.4 215.8 301.3 218.3 300.8C220.8 300.3 224.7 299.3 226.7 298.5C228.7 297.7 229.0 297.5 230.3 296.1C231.6 294.7 233.0 292.2 234.4 290.3C235.8 288.4 237.0 286.3 238.5 284.5C240.0 282.7 242.1 281.4 243.5 279.6C244.9 277.8 245.7 275.5 246.8 273.8C247.9 272.1 248.4 271.1 250.1 269.5C251.8 267.9 254.5 266.8 256.7 264.2C258.9 261.6 261.1 256.8 263.3 254.2C265.5 251.6 267.8 249.6 270.0 248.8C272.2 248.0 274.5 248.8 276.7 249.5C278.9 250.2 281.4 252.4 283.3 253.0C285.2 253.6 286.4 254.5 288.3 253.3C290.2 252.1 292.8 248.3 295.0 245.8C297.2 243.3 299.5 240.7 301.7 238.3C303.9 236.0 305.8 234.5 308.3 231.7C310.8 228.9 313.9 225.6 316.7 221.7C319.5 217.8 322.2 212.2 325.0 208.3C327.8 204.4 330.8 201.1 333.3 198.3C335.8 195.5 338.2 193.1 340.0 191.7C341.8 190.3 342.8 189.4 344.2 189.7C345.6 190.0 346.8 192.1 348.3 193.3C349.8 194.5 351.6 195.9 353.3 196.7C355.0 197.5 356.6 197.3 358.3 198.3C360.0 199.3 361.9 201.9 363.3 202.5C364.7 203.1 365.3 202.5 366.7 201.7C368.1 200.9 370.0 198.7 371.7 197.5C373.4 196.3 374.5 195.2 376.7 194.7C378.9 194.2 382.8 194.2 385.0 194.7C387.2 195.2 388.3 196.2 390.0 197.5C391.7 198.8 393.3 201.2 395.0 202.5C396.7 203.8 398.5 205.1 400.0 205.5C401.5 205.9 402.5 206.5 404.2 205.0C405.9 203.5 407.9 200.3 410.0 196.7C412.1 193.1 414.8 186.9 416.7 183.3C418.6 179.7 420.2 176.8 421.7 175.0C423.2 173.2 424.4 172.6 425.8 172.5C427.2 172.4 428.6 174.1 430.0 174.7C431.4 175.2 432.8 174.5 434.2 175.8C435.6 177.1 436.8 180.6 438.3 182.5C439.8 184.4 441.6 186.8 443.3 187.5C445.0 188.2 446.4 187.5 448.3 186.7C450.2 185.9 452.8 183.9 455.0 182.5C457.2 181.1 459.5 178.9 461.7 178.3C463.9 177.8 466.1 178.9 468.3 179.2C470.5 179.5 472.8 179.9 475.0 180.0C477.2 180.1 479.5 180.3 481.7 180.0C483.9 179.7 486.4 178.6 488.3 178.3C490.2 178.0 491.6 177.6 493.3 178.0C495.0 178.4 496.6 179.4 498.3 180.8C500.0 182.2 501.6 184.2 503.3 186.7C505.0 189.2 506.9 193.3 508.3 195.8C509.7 198.3 510.0 200.0 511.7 201.7C513.4 203.4 516.5 205.0 518.3 205.8C520.1 206.6 520.8 207.1 522.5 206.7C524.2 206.3 526.2 204.6 528.3 203.3C530.4 202.1 533.0 200.4 535.0 199.2C537.0 197.9 538.0 196.5 540.0 195.8C542.0 195.1 544.6 195.4 546.7 195.0C548.8 194.6 550.6 193.0 552.5 193.3C554.4 193.6 556.2 195.8 558.3 196.7C560.4 197.6 562.8 198.6 565.0 198.7C567.2 198.8 569.8 198.2 571.7 197.5C573.7 196.8 574.8 195.9 576.7 194.2C578.6 192.5 581.1 189.2 583.3 187.5C585.5 185.8 587.8 185.7 590.0 184.2C592.2 182.7 594.5 180.6 596.7 178.3C598.9 176.0 601.1 173.8 603.3 170.5C605.5 167.2 608.0 161.6 610.0 158.3C612.0 155.0 613.3 153.2 615.0 150.8C616.7 148.5 618.3 146.3 620.0 144.2C621.7 142.1 623.3 139.8 625.0 138.3C626.7 136.9 629.2 136.0 630.0 135.5" fill="none" stroke="#008000" stroke-width="0.9"/>
<path d="M19.2 343.0C20.4 342.9 24.1 342.3 26.7 342.5C29.3 342.7 32.2 343.2 35.0 344.0C37.8 344.8 40.5 346.1 43.3 347.5C46.1 348.9 48.9 350.8 51.7 352.5C54.5 354.2 57.2 356.0 60.0 357.5C62.8 359.0 65.5 360.2 68.3 361.3C71.1 362.4 73.9 363.1 76.7 363.8C79.5 364.5 82.2 365.1 85.0 365.3C87.8 365.6 90.5 365.5 93.3 365.3C96.1 365.1 98.9 364.8 101.7 364.2C104.5 363.6 107.2 362.8 110.0 361.7C112.8 360.6 115.5 359.0 118.3 357.5C121.1 356.0 124.2 353.9 126.7 352.5C129.2 351.1 130.8 350.3 133.3 349.2C135.8 348.1 138.9 346.7 141.7 345.8C144.5 344.9 147.2 344.3 150.0 343.7C152.8 343.1 155.5 342.6 158.3 342.0C161.1 341.4 163.9 340.9 166.7 340.0C169.5 339.1 172.2 338.1 175.0 336.7C177.8 335.3 180.5 333.5 183.3 331.7C186.1 329.9 188.9 327.6 191.7 325.8C194.5 324.0 197.2 322.5 200.0 320.8C202.8 319.1 205.5 317.3 208.3 315.8C211.1 314.3 213.9 312.9 216.7 311.7C219.5 310.4 222.2 309.4 225.0 308.3C227.8 307.2 231.5 305.9 233.3 305.2C235.1 304.5 234.4 304.9 236.0 304.2C237.6 303.5 240.5 302.2 242.7 301.1C244.9 300.0 247.1 298.7 249.3 297.3C251.5 295.9 253.7 294.5 255.9 292.8C258.1 291.1 260.3 289.3 262.5 287.4C264.7 285.5 266.9 283.6 269.1 281.6C271.3 279.6 273.6 277.4 275.7 275.4C277.8 273.4 279.3 271.5 282.0 269.4C284.7 267.2 288.7 264.6 291.7 262.5C294.7 260.4 297.2 258.4 300.0 256.7C302.8 255.0 305.5 254.2 308.3 252.5C311.1 250.8 313.9 248.8 316.7 246.7C319.5 244.6 322.2 242.4 325.0 240.0C327.8 237.6 330.5 235.1 333.3 232.5C336.1 229.9 338.9 227.3 341.7 224.5C344.5 221.7 347.2 218.4 350.0 215.8C352.8 213.2 355.5 211.2 358.3 209.2C361.1 207.2 363.9 205.2 366.7 203.7C369.5 202.2 372.2 200.9 375.0 200.0C377.8 199.1 380.5 198.5 383.3 198.0C386.1 197.5 388.9 197.3 391.7 197.2C394.5 197.1 397.2 197.3 400.0 197.5C402.8 197.7 405.5 198.3 408.3 198.3C411.1 198.3 414.8 197.8 416.7 197.5C418.6 197.2 418.1 197.2 420.0 196.5C421.9 195.8 425.5 194.4 428.3 193.3C431.1 192.2 433.9 191.0 436.7 190.0C439.5 189.0 442.2 188.2 445.0 187.5C447.8 186.8 450.5 186.4 453.3 185.8C456.1 185.2 458.9 184.2 461.7 183.7C464.5 183.1 467.2 182.9 470.0 182.5C472.8 182.1 475.5 181.6 478.3 181.3C481.1 181.0 483.9 180.7 486.7 180.5C489.5 180.3 492.2 180.0 495.0 180.0C497.8 180.0 500.5 180.0 503.3 180.4C506.1 180.8 508.9 181.5 511.7 182.2C514.5 182.9 517.2 183.7 520.0 184.7C522.8 185.7 525.5 186.8 528.3 188.0C531.1 189.2 533.9 190.5 536.7 191.7C539.5 192.9 542.2 194.2 545.0 195.0C547.8 195.8 550.5 196.2 553.3 196.7C556.1 197.2 558.9 197.7 561.7 198.0C564.5 198.3 567.2 198.4 570.0 198.3C572.8 198.2 575.5 197.9 578.3 197.5C581.1 197.1 583.9 196.6 586.7 195.8C589.5 195.1 592.2 194.1 595.0 193.0C597.8 191.9 600.5 190.7 603.3 189.2C606.1 187.7 609.6 185.4 611.7 184.2C613.8 182.9 614.6 182.7 616.0 181.7C617.4 180.7 617.6 180.5 620.0 178.3C622.4 176.2 628.6 170.4 630.3 168.8" fill="none" stroke="#ff0000" stroke-width="0.9"/>
<path d="M631.5 124.5H723.5" stroke="#111" stroke-width="1" stroke-dasharray="2 0.8"/>
</svg>
<div id="title">稀土永磁概念<span class="n">(858513)</span>赢家乾坤<span class="k">K</span>线</div>
</body></html>
